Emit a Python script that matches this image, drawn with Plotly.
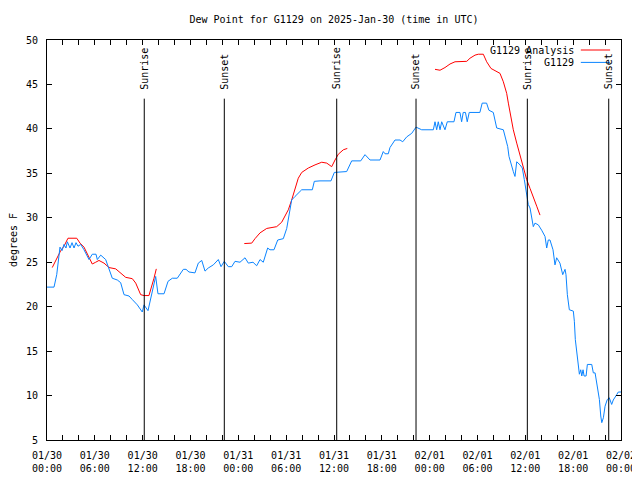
import pandas as pd
import plotly.graph_objects as go

BASE = pd.Timestamp("2025-01-30 00:00")

# G1129 observations: hours after 2025-01-30 00:00 UTC, dew point (F)
obs_hours = [0.0, 0.88, 1.22, 1.63, 1.88, 2.13, 2.38, 2.55, 2.89, 3.14, 3.39, 3.64, 3.89, 4.23,
             4.64, 5.06, 5.27, 5.68, 6.15, 6.31, 6.74, 7.36, 7.78, 8.19, 8.82, 9.24, 9.66, 10.29,
             10.70, 10.91, 11.33, 11.95, 12.17, 12.67, 13.01, 13.42, 13.63, 13.92, 14.68, 15.18,
             15.72, 16.34, 17.10, 17.44, 17.81, 18.56, 18.98, 19.41, 19.82, 20.23, 20.86, 21.49,
             21.83, 22.24, 22.74, 23.17, 23.58, 24.21, 24.84, 25.25, 25.84, 26.30, 26.72, 27.13,
             27.68, 27.97, 28.47, 28.94, 29.64, 30.07, 30.48, 30.69, 31.11, 31.95, 33.28, 33.53,
             34.24, 35.62, 36.04, 37.59, 38.22, 39.35, 39.89, 40.52, 41.77, 42.18, 42.40, 42.81,
             43.02, 43.65, 44.28, 44.62, 45.12, 45.75, 46.29, 47.00, 48.46, 48.67, 48.88, 49.08,
             49.30, 49.51, 49.92, 50.21, 51.05, 51.30, 51.80, 52.01, 52.21, 52.49, 52.71, 52.96,
             54.30, 54.59, 55.14, 55.43, 55.98, 56.41, 57.24, 57.45, 57.79, 57.95, 58.20, 58.49,
             58.70, 58.92, 59.33, 59.62, 59.87, 60.17, 60.37, 60.59, 60.80, 61.00, 61.21, 61.63,
             62.05, 62.47, 62.68, 62.88, 63.09, 63.30, 63.47, 63.72, 63.93, 64.34, 64.69, 64.98,
             65.10, 65.27, 65.52, 66.02, 66.15, 66.27, 66.45, 66.65, 66.78, 66.95, 67.08, 67.24,
             67.37, 67.62, 67.78, 68.33, 68.53, 68.75, 68.87, 69.04, 69.29, 69.46, 69.59, 69.79,
             70.00, 70.28, 70.53, 70.83, 71.03, 71.46, 71.66, 72.0]
obs_values = [22.2, 22.2, 23.6, 26.7, 26.3, 27.0, 26.6, 27.3, 26.6, 27.2, 26.6, 27.2, 26.8, 27.0,
              26.4, 25.65, 25.3, 25.9, 25.9, 25.3, 25.8, 25.3, 24.2, 23.2, 23.0, 22.7, 21.35, 21.2,
              20.8, 20.6, 20.2, 19.4, 20.2, 19.55, 21.0, 22.85, 23.4, 21.45, 21.45, 22.85,
              23.2, 23.2, 24.2, 24.2, 23.9, 23.8, 24.9, 25.2, 24.0, 24.35, 24.7, 25.3,
              24.5, 25.1, 24.5, 24.5, 25.1, 25.0, 25.5, 24.9, 25.0, 24.6, 25.3, 25.0,
              26.6, 26.4, 26.4, 27.5, 27.65, 28.8, 30.7, 32.0, 32.4, 33.15, 33.15, 34.1,
              34.15, 34.15, 35.1, 35.2, 36.4, 36.4, 37.1, 36.5, 36.5, 37.45, 37.2, 37.2,
              37.9, 38.75, 38.75, 38.55, 39.1, 39.5, 40.2, 39.9, 39.9, 40.8, 39.9, 40.8,
              39.9, 40.8, 39.9, 40.8, 40.8, 41.85, 41.85, 40.8, 41.85, 41.85, 40.8, 41.85,
              41.85, 42.9, 42.9, 42.1, 41.85, 40.1, 39.9, 39.1, 38.0, 36.9, 35.95, 35.2,
              34.65, 36.3, 35.95, 35.6, 34.3, 32.4, 31.5, 31.1, 30.15, 29.0, 29.4, 29.2,
              28.6, 27.9, 26.6, 27.5, 27.5, 27.0, 26.4, 24.7, 25.5, 24.9, 23.6, 24.2,
              23.6, 21.35, 19.65, 19.5, 18.35, 16.3, 14.8, 13.5, 12.4, 12.9, 12.2, 12.9,
              12.2, 12.2, 13.5, 13.5, 12.55, 12.55, 11.8, 11.0, 9.55, 7.7, 6.95, 7.5,
              8.8, 9.55, 9.75, 9.0, 9.5, 10.1, 10.4, 10.4]

# G1129 analysis (None = gap)
ana_hours = [0.66, 1.29, 1.72, 2.13, 2.63, 3.73, 4.14, 4.64, 5.27, 5.68, 6.11, 6.52, 7.15, 7.78,
             8.62, 9.03, 9.87, 10.70, 11.13, 11.75, 12.17, 12.79, 13.08, 13.42, 13.71, 19.0,
             24.75, 25.68, 26.09, 26.72, 27.56, 28.19, 28.81, 29.44, 29.85, 30.27, 30.69, 31.11,
             31.52, 31.95, 32.78, 33.62, 34.46, 35.09, 35.71, 36.13, 36.54, 37.17, 37.67, 43.0,
             48.67, 49.30, 49.92, 50.55, 51.18, 51.80, 52.65, 53.06, 53.69, 54.10, 54.73, 55.15,
             55.69, 56.20, 56.82, 57.24, 57.66, 57.87, 58.20, 58.49, 58.92, 59.33, 59.75, 60.17,
             60.59, 61.00, 61.43, 61.84]
ana_values = [24.4, 25.5, 26.3, 26.8, 27.7, 27.7, 27.15, 26.7, 25.65, 24.8, 25.0, 25.2, 24.9, 24.4,
              24.25, 23.95, 23.3, 23.15, 22.65, 21.35, 21.25, 21.25, 22.1, 23.2, 24.25, None,
              27.1, 27.15, 27.65, 28.3, 28.8, 28.9, 29.0, 29.5, 30.15, 30.9, 32.0, 33.15,
              34.45, 35.1, 35.6, 35.95, 36.25, 36.15, 35.75, 36.5, 37.15, 37.65, 37.8, None,
              46.7, 46.6, 46.9, 47.3, 47.55, 47.6, 47.6, 47.95, 48.3, 48.4, 48.4, 47.55,
              46.8, 46.55, 46.25, 45.3, 44.0, 42.9, 41.4, 39.9, 38.4, 37.1, 35.6, 34.3,
              33.3, 32.4, 31.3, 30.3]

# Sunrise / sunset events (hours after base)
sun_hours = [12.2, 22.24, 36.34, 46.29, 60.25, 70.46]
sun_labels = ["Sunrise", "Sunset", "Sunrise", "Sunset", "Sunrise", "Sunset"]

series_names = ["G1129 Analysis", "G1129"]
series_colors = ["#ff0000", "#0a84ff"]


def to_time(hours):
    return [BASE + pd.Timedelta(hours=h) for h in hours]


FONT = "DejaVu Sans Mono, Liberation Mono, monospace"

fig = go.Figure()
fig.add_trace(go.Scatter(x=to_time(ana_hours), y=ana_values, mode="lines", name=series_names[0],
                         line=dict(color=series_colors[0], width=1), connectgaps=False,
                         showlegend=False))
fig.add_trace(go.Scatter(x=to_time(obs_hours), y=obs_values, mode="lines", name=series_names[1],
                         line=dict(color=series_colors[1], width=1), showlegend=False))

shapes = []
annotations = []
label_y = 44.2
for h, lab in zip(sun_hours, sun_labels):
    t = BASE + pd.Timedelta(hours=h)
    shapes.append(dict(type="line", xref="x", yref="y", x0=t, x1=t, y0=5, y1=43.4,
                       line=dict(color="black", width=1)))
    annotations.append(dict(x=t, y=label_y, xref="x", yref="y", text=lab, textangle=-90,
                            showarrow=False, xanchor="center", yanchor="bottom",
                            font=dict(family=FONT, size=10, color="black")))

# manual gnuplot-style key (text then line sample)
key_rows = [0.975, 0.944]
for name, color, ky in zip(series_names, series_colors, key_rows):
    annotations.append(dict(x=0.921, y=ky, xref="paper", yref="paper", text=name,
                            showarrow=False, xanchor="right", yanchor="middle",
                            font=dict(family=FONT, size=10, color="black")))
    shapes.append(dict(type="line", xref="paper", yref="paper", x0=0.93, x1=0.981,
                       y0=ky, y1=ky, line=dict(color=color, width=1)))

# the page body has an 8px margin, so the figure's margins are reduced by 8px at left/top
fig.update_layout(
    width=640, height=480,
    margin=dict(l=39, r=27, t=32, b=48, autoexpand=False),
    paper_bgcolor="white", plot_bgcolor="white",
    font=dict(family=FONT, size=10, color="black"),
    title=dict(text="Dew Point for G1129 on 2025-Jan-30 (time in UTC)", xref="paper", x=0.5,
               xanchor="center", y=0.977, yanchor="middle",
               font=dict(family=FONT, size=10, color="black")),
    shapes=shapes, annotations=annotations, showlegend=False,
)
fig.update_xaxes(
    type="date", range=[BASE, BASE + pd.Timedelta(hours=72)], automargin=False,
    tick0=BASE, dtick=6 * 3600 * 1000, tickformat="%m/%d<br>%H:%M",
    ticks="inside", ticklen=5, tickcolor="black", tickwidth=1,
    minor=dict(dtick=2 * 3600 * 1000, ticks="inside", ticklen=5, tickcolor="black", showgrid=False),
    showline=True, linecolor="black", linewidth=1, mirror="ticks",
    showgrid=False, zeroline=False, ticklabelstandoff=6,
    tickfont=dict(family=FONT, size=10, color="black"),
)
fig.update_yaxes(
    range=[5, 50], dtick=5, tick0=5, automargin=False,
    ticks="inside", ticklen=5, tickcolor="black", tickwidth=1,
    showline=True, linecolor="black", linewidth=1, mirror="ticks",
    showgrid=False, zeroline=False, ticklabelstandoff=6,
    title=dict(text="degrees F", font=dict(family=FONT, size=10, color="black"), standoff=9),
    tickfont=dict(family=FONT, size=10, color="black"),
)

fig.write_html("out.html")
